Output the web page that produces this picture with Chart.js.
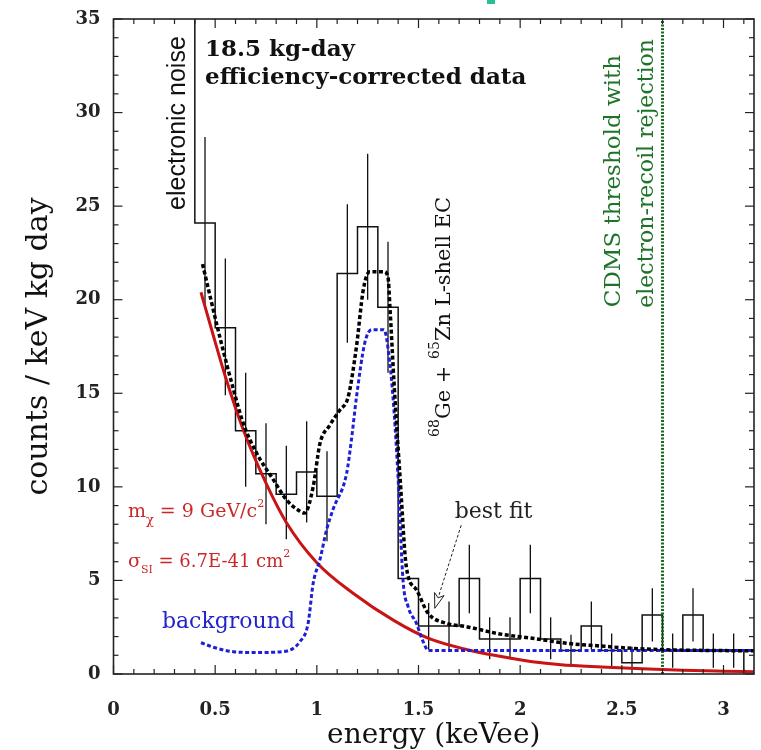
<!DOCTYPE html>
<html>
<head>
<meta charset="utf-8">
<script src="https://cdn.jsdelivr.net/npm/chart.js@4.4.0/dist/chart.umd.min.js"></script>
<style>
  html, body { margin: 0; padding: 0; background: #fff; }
</style>
</head>
<body>
<canvas id="myChart" width="761" height="750"></canvas>
<script>
// Histogram bin edges (keVee) and efficiency-corrected rates
const binEdges = [0.4, 0.5, 0.6, 0.7, 0.8, 0.9, 1.0, 1.1, 1.2, 1.3, 1.4, 1.5, 1.6, 1.7, 1.8,
                  1.9, 2.0, 2.1, 2.2, 2.3, 2.4, 2.5, 2.6, 2.7, 2.8, 2.9, 3.0, 3.1, 3.2];
const rates = [24.1, 18.5, 13.0, 10.7, 9.6, 10.8, 9.5, 21.4, 23.9, 19.6, 5.1, 2.57, 2.57, 5.1,
               1.87, 1.87, 5.1, 1.87, 1.25, 2.57, 1.25, 0.6, 3.15, 1.25, 3.15, 1.25, 1.25, 0.1];
const errHi = [28.7, 22.2, 16.1, 13.4, 12.2, 13.5, 11.9, 25.1, 27.8, 23.1, null, 3.8, 3.87, 6.9,
               3.03, 3.03, 6.9, 3.03, 2.1, 3.87, 2.17, 1.46, 4.58, 2.17, 4.58, 2.17, 2.17, null];
const errLo = [19.5, 14.9, 10.0, 8.0, 7.2, 8.1, 7.1, 17.7, 20.0, 16.1, null, 1.3, 1.3, 3.25,
               0.79, 0.79, 3.25, 0.79, 0.4, 1.3, 0.39, 0, 1.73, 0.33, 1.73, 0.33, 0.33, null];
const noiseCut = 0.4;     // electronic noise edge
const noiseTop = 35;

// WIMP signal (m = 9 GeV, red)
const signalX = [0.43, 0.48, 0.55, 0.64, 0.75, 0.85, 1.0, 1.18, 1.38, 1.55, 1.74, 1.9, 2.06, 2.2, 2.4, 2.6, 2.8, 3.0, 3.15];
const signalY = [20.4, 18.5, 15.9, 13.0, 10.2, 8.1, 5.95, 4.3, 2.85, 1.9, 1.3, 0.95, 0.66, 0.5, 0.38, 0.28, 0.2, 0.15, 0.12];

// background (blue)
const bgX = [0.43, 0.5, 0.59, 0.7, 0.835, 0.917, 0.957, 0.982, 1.015, 1.048, 1.08, 1.146, 1.17, 1.195,
             1.236, 1.27, 1.33, 1.359, 1.38, 1.40, 1.424, 1.449, 1.49, 1.52, 1.55, 3.15];
const bgY = [1.67, 1.4, 1.19, 1.15, 1.2, 1.73, 2.7, 4.85, 6.1, 7.7, 8.8, 10.7, 12.5, 14.8,
             17.7, 18.4, 18.4, 16.6, 14.0, 10.4, 5.0, 3.6, 2.7, 1.8, 1.25, 1.25];

// best fit (black dashed)
const fitX = [0.438, 0.523, 0.59, 0.638, 0.704, 0.785, 0.851, 0.917, 0.94, 0.982, 1.015, 1.064, 1.113,
              1.154, 1.195, 1.228, 1.26, 1.33, 1.35, 1.36, 1.38, 1.41, 1.44, 1.49, 1.547,
              1.637, 1.736, 1.9, 2.06, 2.23, 2.39, 2.55, 2.7, 3.0, 3.15];
const fitY = [21.9, 18.0, 15.2, 13.4, 11.8, 10.4, 9.3, 8.7, 8.6, 10.0, 12.3, 13.3, 14.1,
              14.8, 17.5, 20.5, 21.5, 21.5, 21.2, 19.5, 15.5, 10.4, 5.74, 4.5, 3.25,
              2.71, 2.53, 2.14, 1.91, 1.64, 1.5, 1.37, 1.3, 1.25, 1.24];

const cdmsThreshold = 2.7;

// build the step histogram and error bar segments
let histPoints = [{x: noiseCut, y: noiseTop}];
for (let i = 0; i < rates.length; i++) {
    histPoints.push({x: binEdges[i], y: rates[i]});
    histPoints.push({x: binEdges[i + 1], y: rates[i]});
}
let errPoints = [];
for (let i = 0; i < rates.length; i++) {
    if (errHi[i] == null) continue;
    const c = (binEdges[i] + binEdges[i + 1]) / 2;
    errPoints.push({x: c, y: errLo[i]}, {x: c, y: errHi[i]}, {x: c, y: null});
}
const toXY = (xs, ys) => xs.map((v, i) => ({x: v, y: ys[i]}));

const serif = 'DejaVu Serif';

function line(ctx, x1, y1, x2, y2) {
    ctx.beginPath(); ctx.moveTo(x1, y1); ctx.lineTo(x2, y2); ctx.stroke();
}

// frame with inward ticks on all sides
const frameTicks = {
    id: 'frameTicks',
    afterDraw(chart) {
        const {ctx, chartArea: a, scales: {x, y}} = chart;
        ctx.save();
        ctx.strokeStyle = '#222';
        ctx.lineWidth = 1.2;
        for (let k = 0; k * 0.1 <= x.max + 1e-9; k++) {
            const px = x.getPixelForValue(k * 0.1);
            const len = k % 5 === 0 ? 9 : 5;
            line(ctx, px, a.bottom, px, a.bottom - len);
            line(ctx, px, a.top, px, a.top + len);
        }
        for (let k = 0; k <= y.max; k++) {
            const py = y.getPixelForValue(k);
            const len = k % 5 === 0 ? 9 : 5;
            line(ctx, a.left, py, a.left + len, py);
            line(ctx, a.right, py, a.right - len, py);
        }
        ctx.lineWidth = 1.6;
        ctx.strokeRect(a.left, a.top, a.right - a.left, a.bottom - a.top);
        // small teal mark cut off above the frame
        ctx.fillStyle = 'rgb(40,190,150)';
        ctx.fillRect(487, 0, 8, 4);
        ctx.restore();
    }
};

// draw a run of [text, shift, size] pieces, shift >0 = superscript
function drawPieces(ctx, pieces, color) {
    let cx = 0;
    for (const [t, shift, size, weight] of pieces) {
        ctx.font = (weight || 'normal') + ' ' + size + 'px "' + serif + '"';
        ctx.fillStyle = color;
        ctx.fillText(t, cx, -shift);
        cx += ctx.measureText(t).width;
    }
}

const annotations = {
    id: 'annotations',
    afterDatasetsDraw(chart) {
        const {ctx, scales: {x, y}} = chart;
        const X = v => x.getPixelForValue(v);
        const Y = v => y.getPixelForValue(v);
        ctx.save();
        ctx.textBaseline = 'alphabetic';
        ctx.textAlign = 'left';

        // rotated labels
        ctx.save();
        ctx.translate(X(0.351), Y(24.8));
        ctx.rotate(-Math.PI / 2);
        ctx.font = '25px "Liberation Sans"';
        ctx.fillStyle = '#111';
        ctx.fillText('electronic noise', 0, 0);
        ctx.restore();

        ctx.save();
        ctx.translate(X(1.654), Y(12.67));
        ctx.rotate(-Math.PI / 2);
        drawPieces(ctx, [['68', 11, 14], ['Ge + ', 0, 21], ['65', 11, 14], ['Zn L-shell EC', 0, 21]], '#111');
        ctx.restore();

        const green = 'rgb(30,115,40)';
        ctx.save();
        ctx.translate(X(2.489), Y(19.6));
        ctx.rotate(-Math.PI / 2);
        drawPieces(ctx, [['CDMS threshold with', 0, 23]], green);
        ctx.restore();
        ctx.save();
        ctx.translate(X(2.651), Y(19.57));
        ctx.rotate(-Math.PI / 2);
        drawPieces(ctx, [['electron-recoil rejection', 0, 22]], green);
        ctx.restore();

        // header
        ctx.save();
        ctx.translate(X(0.45), Y(33.0));
        drawPieces(ctx, [['18.5 kg-day', 0, 23, 'bold']], '#111');
        ctx.restore();
        ctx.save();
        ctx.translate(X(0.45), Y(31.55));
        drawPieces(ctx, [['efficiency-corrected data', 0, 23, 'bold']], '#111');
        ctx.restore();

        // WIMP parameters
        const red = 'rgb(200,40,40)';
        ctx.save();
        ctx.translate(X(0.071), Y(8.4));
        drawPieces(ctx, [['m', 0, 19], ['\u03c7', -7, 13], [' = 9 GeV/c', 0, 19], ['2', 10, 11]], red);
        ctx.restore();
        ctx.save();
        ctx.translate(X(0.071), Y(5.72));
        drawPieces(ctx, [['\u03c3', 0, 19], ['SI', -6, 11], [' = 6.7E-41 cm', 0, 18], ['2', 10, 11]], red);
        ctx.restore();

        ctx.save();
        ctx.translate(X(0.238), Y(2.46));
        drawPieces(ctx, [['background', 0, 22]], 'rgb(35,35,205)');
        ctx.restore();

        ctx.save();
        ctx.translate(X(1.678), Y(8.34));
        drawPieces(ctx, [['best fit', 0, 22]], '#222');
        ctx.restore();

        // dashed arrow to the best fit curve
        const x1 = X(1.71), y1 = Y(7.95), x2 = X(1.58), y2 = Y(3.51);
        const ang = Math.atan2(y2 - y1, x2 - x1);
        ctx.strokeStyle = '#222';
        ctx.lineWidth = 1;
        ctx.setLineDash([3, 2]);
        line(ctx, x1, y1, x2 - 12 * Math.cos(ang), y2 - 12 * Math.sin(ang));
        ctx.setLineDash([]);
        ctx.beginPath();
        ctx.moveTo(x2, y2);
        ctx.lineTo(x2 - 15 * Math.cos(ang) + 5 * Math.sin(ang), y2 - 15 * Math.sin(ang) - 5 * Math.cos(ang));
        ctx.lineTo(x2 - 11 * Math.cos(ang), y2 - 11 * Math.sin(ang));
        ctx.lineTo(x2 - 15 * Math.cos(ang) - 5 * Math.sin(ang), y2 - 15 * Math.sin(ang) + 5 * Math.cos(ang));
        ctx.closePath();
        ctx.fillStyle = '#fff';
        ctx.fill();
        ctx.stroke();
        ctx.restore();
    }
};

const data = {
    datasets: [
        {
            label: 'best fit',
            data: toXY(fitX, fitY),
            borderColor: '#000',
            borderWidth: 3.5,
            borderDash: [4, 2.5],
            cubicInterpolationMode: 'monotone',
            order: 1,
        },
        {
            label: 'background',
            data: toXY(bgX, bgY),
            borderColor: 'rgb(30,30,215)',
            borderWidth: 3,
            borderDash: [4, 2.5],
            cubicInterpolationMode: 'monotone',
            order: 2,
        },
        {
            label: 'signal',
            data: toXY(signalX, signalY),
            borderColor: 'rgb(200,20,20)',
            borderWidth: 3,
            cubicInterpolationMode: 'monotone',
            order: 3,
        },
        {
            label: 'CDMS threshold',
            data: [{x: cdmsThreshold, y: 0}, {x: cdmsThreshold, y: noiseTop}],
            borderColor: 'rgb(20,110,30)',
            borderWidth: 3,
            borderDash: [2, 1.5],
            order: 4,
        },
        {
            label: 'error bars',
            data: errPoints,
            borderColor: '#111',
            borderWidth: 1.3,
            spanGaps: false,
            order: 5,
        },
        {
            label: 'data',
            data: histPoints,
            borderColor: '#111',
            borderWidth: 1.5,
            order: 6,
        },
    ]
};

const config = {
    type: 'line',
    data: data,
    options: {
        responsive: false,
        animation: false,
        devicePixelRatio: 1,
        elements: {point: {radius: 0}, line: {tension: 0, fill: false}},
        layout: {padding: {top: 19, right: 7, left: 0, bottom: 0}},
        plugins: {legend: {display: false}, tooltip: {enabled: false}},
        scales: {
            x: {
                type: 'linear', min: 0, max: 3.15,
                grid: {display: false}, border: {display: false},
                ticks: {stepSize: 0.5, includeBounds: false, padding: 18, color: '#222', maxRotation: 0,
                        callback: v => String(+v.toFixed(2)),
                        font: {family: serif, size: 18, weight: 'bold'}},
                title: {display: true, text: 'energy (keVee)', color: '#111', padding: 0,
                        font: {family: serif, size: 28, lineHeight: 1}},
                afterFit: s => { s.height = 76; }
            },
            y: {
                type: 'linear', min: 0, max: 35,
                grid: {display: false}, border: {display: false},
                ticks: {stepSize: 5, includeBounds: false, padding: 5, color: '#222',
                        font: {family: serif, size: 18, weight: 'bold'}},
                title: {display: true, text: 'counts / keV kg day', color: '#111', padding: {top: 24, bottom: 0},
                        font: {family: serif, size: 30, lineHeight: 1}},
                afterFit: s => { s.width = 113.5; }
            }
        }
    },
    plugins: [frameTicks, annotations]
};

const myChart = new Chart(document.getElementById('myChart'), config);
</script>
</body>
</html>
